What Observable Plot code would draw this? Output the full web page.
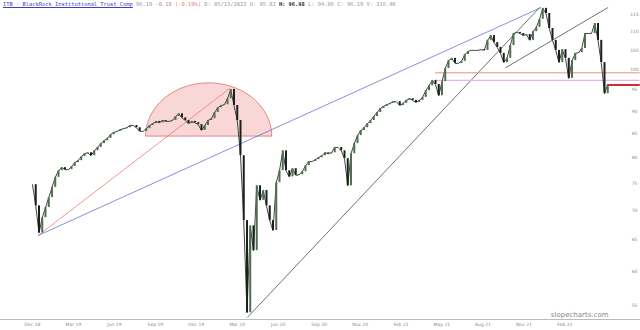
<!DOCTYPE html>
<html>
<head>
<meta charset="utf-8">
<script src="https://cdn.jsdelivr.net/npm/d3@7"></script>
<script src="https://cdn.jsdelivr.net/npm/@observablehq/plot@0.6"></script>
<style>
  html, body { margin: 0; padding: 0; background: #fff; overflow: hidden; }
  #wrap { position: relative; width: 640px; height: 330px; }
  #title { position: absolute; left: 3px; top: 1px; font-family: "DejaVu Sans Mono", monospace; font-size: 5.4px; color: #999; white-space: nowrap; z-index: 2; }
  #title .sym { color: #3d3dc8; text-decoration: underline; }
  #title .neg { color: #e07a7a; }
  #title .hi { color: #333; font-weight: bold; }
</style>
</head>
<body>
<div id="wrap">
  <div id="title"><span class="sym">ITB · BlackRock Institutional Trust Comp</span> 96.19 <span class="neg">-0.18 (-0.19%)</span> D: 05/13/2022 O: 95.82 <span class="hi">H: 96.98</span> L: 94.06 C: 96.19 V: 216.4K</div>
</div>
<script>
// Weekly closes (every 5 trading days)
const closes = [
  74.7, 70.8, 66.1, 68.7, 70.5, 72.3, 74.2, 76.1, 77.4, 78.0,
  77.6, 77.6, 78.2, 79.0, 79.4, 80.2, 80.8, 81.0, 80.4, 81.4,
  82.1, 82.9, 83.5, 84.0, 84.8, 85.3, 85.5, 85.9, 86.1, 86.3,
  86.8, 86.8, 86.3, 85.5, 85.5, 86.1, 86.8, 87.2, 87.7, 87.4,
  87.9, 87.7, 87.7, 87.9, 88.8, 89.4, 88.5, 87.9, 87.2, 87.7,
  87.4, 87.0, 85.7, 86.8, 87.9, 88.3, 89.7, 90.8, 91.3, 91.5,
  92.9, 95.1, 91.3, 87.9, 80.4, 68.2, 54.0, 67.3, 63.2, 74.5,
  71.8, 73.6, 70.8, 68.2, 66.5, 75.1, 77.4, 81.4, 77.4, 76.2,
  77.8, 76.5, 76.6, 77.2, 78.4, 79.2, 79.2, 79.6, 80.0, 80.4,
  81.0, 80.8, 81.0, 82.1, 82.1, 81.4, 79.8, 74.5, 80.8, 82.9,
  84.6, 85.7, 86.3, 87.2, 87.9, 88.8, 89.7, 90.6, 91.1, 91.5,
  91.8, 92.2, 92.2, 91.3, 91.8, 92.5, 92.9, 92.5, 92.0, 92.5,
  93.2, 94.8, 96.0, 97.3, 96.3, 93.6, 97.0, 100.3, 102.3, 102.9,
  101.6, 101.6, 102.1, 103.9, 104.7, 105.0, 105.0, 105.0, 105.2, 105.0,
  107.7, 109.0, 107.1, 105.8, 104.2, 101.8, 102.9, 106.3, 109.6, 109.9,
  109.6, 109.0, 109.3, 107.7, 110.1, 111.3, 113.6, 116.8, 115.3, 111.0,
  107.7, 105.0, 101.8, 105.2, 102.9, 97.8, 102.3, 104.2, 104.4, 105.5,
  109.6, 109.6, 109.6, 112.4, 107.7, 101.8, 94.1, 96.3
];
const daysPerPoint = 5;

// x-axis (trading-day index) labels
const tickDays = [0, 63, 126, 189, 252, 315, 378, 441, 504, 567, 630, 693, 756, 819];
const tickLabels = ["Dec 18","Mar 19","Jun 19","Sep 19","Dec 19","Mar 20","Jun 20","Sep 20","Nov 20","Feb 21","May 21","Aug 21","Nov 21","Feb 22"];

// y-axis ticks
const yTicks = [55, 60, 65, 70, 75, 80, 85, 90, 95, 100, 105, 110, 115];

// drawn trendlines (day index, price)
const redLine = [[9, 65.7], [303, 95.3]];
const blueLine = [[9, 65.7], [782, 117.0]];
const blackLine1 = [[331, 53.4], [780, 117.0]];
const blackLine2 = [[728, 100.5], [885, 117.0]];

// half-ellipse annotation: centre day, half-width (days), base price, top price
const arcCenter = 271, arcHalfWidth = 97, arcBase = 84.5, arcTop = 96.7;

// horizontal levels
const levelPrices = [99.2, 97.3, 96.19];
const levelStart = [620, 620, 885];
const levelColors = ["#f08a8a", "#f0b0e6", "#d42a2a"];
const levelWidths = [1, 1.2, 2];
const lastDay = 935;

const series = closes.map((c, i) => ({day: i * daysPerPoint, close: c, open: i ? closes[i - 1] : c}));
const bodies = series.slice(1).map(d => ({...d, up: d.close >= d.open}));
const seg = (arr) => arr.map(([day, v]) => ({day, v}));
const arcPts = d3.range(0, 181, 3).map(deg => {
  const t = deg * Math.PI / 180;
  return {day: arcCenter + arcHalfWidth * Math.cos(t),
          v: Math.exp(Math.log(arcBase) + (Math.log(arcTop) - Math.log(arcBase)) * Math.sin(t))};
});
arcPts.push(arcPts[0]);
const levels = levelPrices.map((v, i) => ({v, x1: levelStart[i], x2: lastDay, color: levelColors[i], w: levelWidths[i]}));
const labelMap = new Map(tickDays.map((d, i) => [d, tickLabels[i]]));

const chart = Plot.plot({
  width: 640,
  height: 330,
  marginLeft: 0, marginRight: 0, marginTop: 0, marginBottom: 11,
  style: {fontFamily: "DejaVu Sans, sans-serif", background: "transparent"},
  x: {domain: [-49.23, 935.38], range: [0, 640]},
  y: {type: "log", domain: [55, 115], range: [305, 14]},
  marks: [
    Plot.line(arcPts, {x: "day", y: "v", fill: "#f7c9c9", fillOpacity: 0.75, stroke: "#e06b6b", strokeWidth: 0.8}),
    Plot.line(seg(redLine), {x: "day", y: "v", stroke: "#e86a6a", strokeWidth: 0.7}),
    Plot.line(seg(blueLine), {x: "day", y: "v", stroke: "#5a5ad8", strokeWidth: 0.7}),
    Plot.line(seg(blackLine1), {x: "day", y: "v", stroke: "#333", strokeWidth: 0.7}),
    Plot.line(seg(blackLine2), {x: "day", y: "v", stroke: "#333", strokeWidth: 0.7}),
    Plot.ruleY(levels, {y: "v", x1: "x1", x2: "x2", stroke: "color", strokeWidth: "w"}),
    Plot.line(series, {x: "day", y: "close", stroke: "#3a4a3a", strokeWidth: 1}),
    Plot.ruleX(bodies, {x: "day", y1: "open", y2: "close", stroke: d => d.up ? "#4f6f4f" : "#1e1e1e", strokeWidth: 2}),
    Plot.frame({anchor: "bottom", stroke: "#bbb"}),
    Plot.axisX({ticks: tickDays, tickFormat: d => labelMap.get(d), tickSize: 0, tickPadding: 3, fontSize: 4.5, fill: "#888"}),
    Plot.axisY({ticks: yTicks, anchor: "right", tickSize: 0, tickPadding: 0, textAnchor: "middle", dx: -6, fontSize: 4.5, fill: "#888", tickFormat: d => String(d)}),
    Plot.text(["slopecharts.com"], {frameAnchor: "bottom-right", dx: -32, dy: -3, fontSize: 7, fill: "#888"})
  ]
});
document.getElementById("wrap").appendChild(chart);
</script>
</body>
</html>
